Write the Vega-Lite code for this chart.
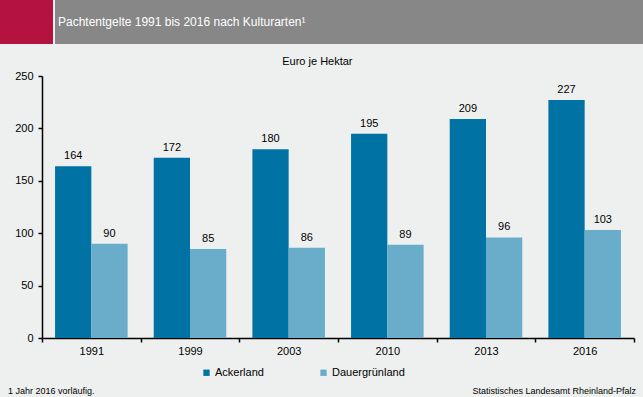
{
 "$schema": "https://vega.github.io/schema/vega-lite/v6.json",
 "background": "#eef0ef",
 "padding": {"left": 0, "top": 0, "right": 0, "bottom": 4},
 "spacing": 12,
 "config": {
   "font": "Liberation Sans",
   "view": {"stroke": null},
   "title": {"color": "black", "fontWeight": "normal", "font": "Liberation Sans"}
 },
 "vconcat": [
  {
   "spacing": 2,
   "hconcat": [
     {"width": 53, "height": 44, "view": {"fill": "#b5133f", "stroke": null},
      "data": {"values": [{}]}, "mark": {"type": "text"}, "encoding": {"text": {"value": ""}}},
     {"width": 588, "height": 44, "view": {"fill": "#878787", "stroke": null},
      "title": {"text": "Pachtentgelte 1991 bis 2016 nach Kulturarten¹", "color": "white", "fontSize": 12, "anchor": "start", "offset": -29, "dx": 3},
      "data": {"values": [{}]}, "mark": {"type": "text"}, "encoding": {"text": {"value": ""}}}
   ]
  },
  {
   "width": 634,
   "height": 262,
   "title": {"text": "Euro je Hektar", "fontSize": 11, "anchor": "middle", "offset": 3, "frame": "bounds"},
   "data": {"values": [
     {"Jahr": "1991", "Kulturart": "Ackerland", "Wert": 164},
     {"Jahr": "1991", "Kulturart": "Dauergrünland", "Wert": 90},
     {"Jahr": "1999", "Kulturart": "Ackerland", "Wert": 172},
     {"Jahr": "1999", "Kulturart": "Dauergrünland", "Wert": 85},
     {"Jahr": "2003", "Kulturart": "Ackerland", "Wert": 180},
     {"Jahr": "2003", "Kulturart": "Dauergrünland", "Wert": 86},
     {"Jahr": "2010", "Kulturart": "Ackerland", "Wert": 195},
     {"Jahr": "2010", "Kulturart": "Dauergrünland", "Wert": 89},
     {"Jahr": "2013", "Kulturart": "Ackerland", "Wert": 209},
     {"Jahr": "2013", "Kulturart": "Dauergrünland", "Wert": 96},
     {"Jahr": "2016", "Kulturart": "Ackerland", "Wert": 227},
     {"Jahr": "2016", "Kulturart": "Dauergrünland", "Wert": 103}
   ]},
   "encoding": {
     "x": {"field": "Jahr", "type": "nominal", "sort": null,
           "scale": {"paddingInner": 0, "paddingOuter": 0, "range": [42, 634]},
           "axis": {"title": null, "labelAngle": 0, "tickBand": "extent", "tickSize": 4, "domainColor": "black", "tickColor": "black", "labelColor": "black", "labelFontSize": 11, "labelPadding": 3, "domainWidth": 1.5, "tickWidth": 1.5}},
     "xOffset": {"field": "Kulturart", "type": "nominal", "sort": ["Ackerland", "Dauergrünland"],
           "scale": {"paddingOuter": 0.36, "paddingInner": 0}},
     "y": {"field": "Wert", "type": "quantitative",
           "scale": {"domain": [0, 250]},
           "axis": {"title": null, "grid": false, "values": [0, 50, 100, 150, 200, 250], "offset": -42, "tickSize": 4, "domainColor": "black", "tickColor": "black", "labelColor": "black", "labelFontSize": 11, "labelPadding": 5, "domainWidth": 1.5, "tickWidth": 1.5}}
   },
   "layer": [
     {"mark": {"type": "bar"},
      "encoding": {"color": {"field": "Kulturart", "type": "nominal",
         "scale": {"domain": ["Ackerland", "Dauergrünland"], "range": ["#0072a3", "#69adcb"]},
         "legend": {"title": null, "orient": "none", "legendX": 201, "legendY": 367, "direction": "horizontal", "symbolType": "square", "symbolSize": 40, "symbolStrokeWidth": 0, "labelFontSize": 11, "labelColor": "black", "columnPadding": 54, "labelOffset": 3}}}},
     {"mark": {"type": "text", "baseline": "bottom", "dy": -5, "fontSize": 11, "color": "black"},
      "encoding": {"text": {"field": "Wert", "type": "quantitative"}}}
   ]
  },
  {
   "spacing": 2,
   "hconcat": [
     {"width": 320, "height": 19,
      "title": {"text": "1 Jahr 2016 vorläufig.", "anchor": "start", "fontSize": 9, "dx": 8, "orient": "bottom", "offset": 0},
      "data": {"values": [{}]}, "mark": {"type": "text"}, "encoding": {"text": {"value": ""}}},
     {"width": 321, "height": 19,
      "title": {"text": "Statistisches Landesamt Rheinland-Pfalz", "anchor": "end", "fontSize": 9, "dx": -7, "orient": "bottom", "offset": 0},
      "data": {"values": [{}]}, "mark": {"type": "text"}, "encoding": {"text": {"value": ""}}}
   ]
  }
 ]
}
